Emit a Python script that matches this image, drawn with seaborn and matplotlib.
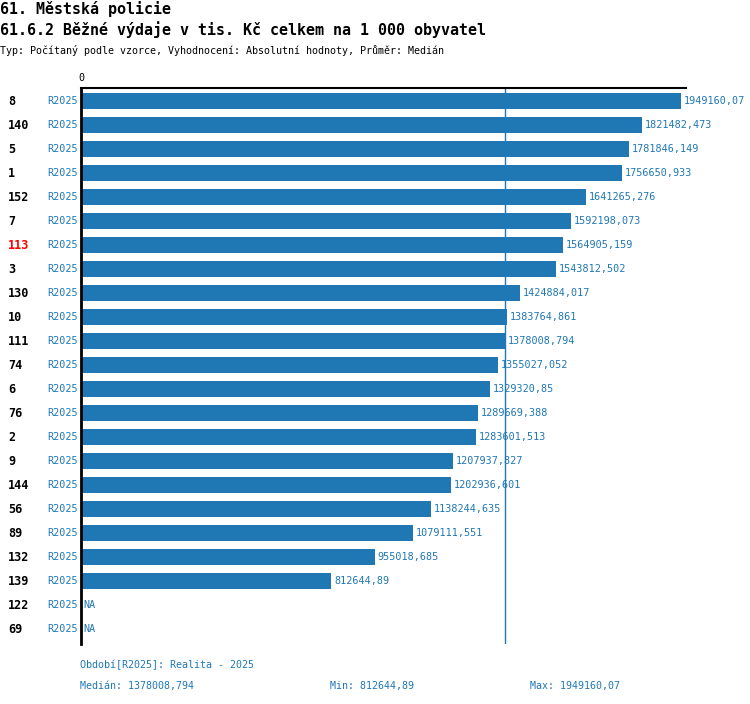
import numpy as np
import pandas as pd
import matplotlib
matplotlib.use("Agg")
import matplotlib.pyplot as plt
import matplotlib.transforms as mtransforms
import seaborn as sns

# data
codes = ["8", "140", "5", "1", "152", "7", "113", "3", "130", "10", "111", "74",
         "6", "76", "2", "9", "144", "56", "89", "132", "139", "122", "69"]
values = [1949160.07, 1821482.473, 1781846.149, 1756650.933, 1641265.276, 1592198.073,
          1564905.159, 1543812.502, 1424884.017, 1383764.861, 1378008.794, 1355027.052,
          1329320.85, 1289669.388, 1283601.513, 1207937.827, 1202936.601, 1138244.635,
          1079111.551, 955018.685, 812644.89, np.nan, np.nan]
period = "R2025"
highlight = "113"

title1 = "61. Městská policie"
title2 = "61.6.2 Běžné výdaje v tis. Kč celkem na 1 000 obyvatel"
subtitle = "Typ: Počítaný podle vzorce, Vyhodnocení: Absolutní hodnoty, Průměr: Medián"

blue = "#1f77b4"
df = pd.DataFrame({"code": codes, "value": values})
median = float(np.nanmedian(values))
vmin = float(np.nanmin(values))
vmax = float(np.nanmax(values))


def fmt(v):
    return str(v).replace(".", ",")


sns.set_style("white")
plt.rcParams["font.family"] = ["DejaVu Sans Mono", "DejaVu Sans"]
plt.rcParams["text.color"] = "black"

fig = plt.figure(figsize=(7.5, 7.04), dpi=100)
ax = fig.add_axes([81 / 750, 1 - 644 / 704, 605 / 750, 556 / 704])

sns.barplot(data=df, x="value", y="code", order=codes, orient="h",
            color=blue, saturation=1, width=0.67, linewidth=0, ax=ax)

ax.set_xlim(0, vmax * 605 / 600)
ax.set_ylim(-0.5417 + 556 / 24, -0.5417)
ax.axvline(median, color=blue, lw=1)

for s in ["right", "bottom"]:
    ax.spines[s].set_visible(False)
ax.spines["left"].set_color("black")
ax.spines["left"].set_linewidth(2)
ax.spines["top"].set_color("black")
ax.spines["top"].set_linewidth(1.5)
ax.set_xticks([])
ax.set_yticks([])
ax.set_xlabel("")
ax.set_ylabel("")

# row labels: code (bold, black / red) + period + value
trans = mtransforms.blended_transform_factory(fig.transFigure, ax.transData)
for i, (c, v) in enumerate(zip(codes, values)):
    ax.text(8 / 750, i, c, transform=trans, ha="left", va="center",
            fontsize=8.5, fontweight="bold",
            color="red" if c == highlight else "black")
    ax.text(78 / 750, i, period, transform=trans, ha="right", va="center",
            fontsize=7.3, color=blue)
    label = "NA" if np.isnan(v) else fmt(v)
    xpos = 0 if np.isnan(v) else v
    ax.annotate(label, (xpos, i), xytext=(2, 0), textcoords="offset points",
                ha="left", va="center", fontsize=7.3, color=blue)

ax.text(0, -0.75, "0", ha="center", va="bottom", fontsize=7.3, color="black")

fig.text(0.5 / 750, 1 - 9 / 704, title1, fontsize=10.8, fontweight="bold", va="center")
fig.text(0.5 / 750, 1 - 30 / 704, title2, fontsize=10.8, fontweight="bold", va="center")
fig.text(0.5 / 750, 1 - 50 / 704, subtitle, fontsize=7.2, va="center")

fig.text(80 / 750, 1 - 665 / 704, "Období[R2025]: Realita - 2025", fontsize=7.2,
         color=blue, va="center")
fig.text(80 / 750, 1 - 686 / 704, "Medián: " + fmt(median), fontsize=7.2,
         color=blue, va="center")
fig.text(330 / 750, 1 - 686 / 704, "Min: " + fmt(vmin), fontsize=7.2,
         color=blue, va="center")
fig.text(530 / 750, 1 - 686 / 704, "Max: " + fmt(vmax), fontsize=7.2,
         color=blue, va="center")

fig.savefig("out.png", dpi=100)
